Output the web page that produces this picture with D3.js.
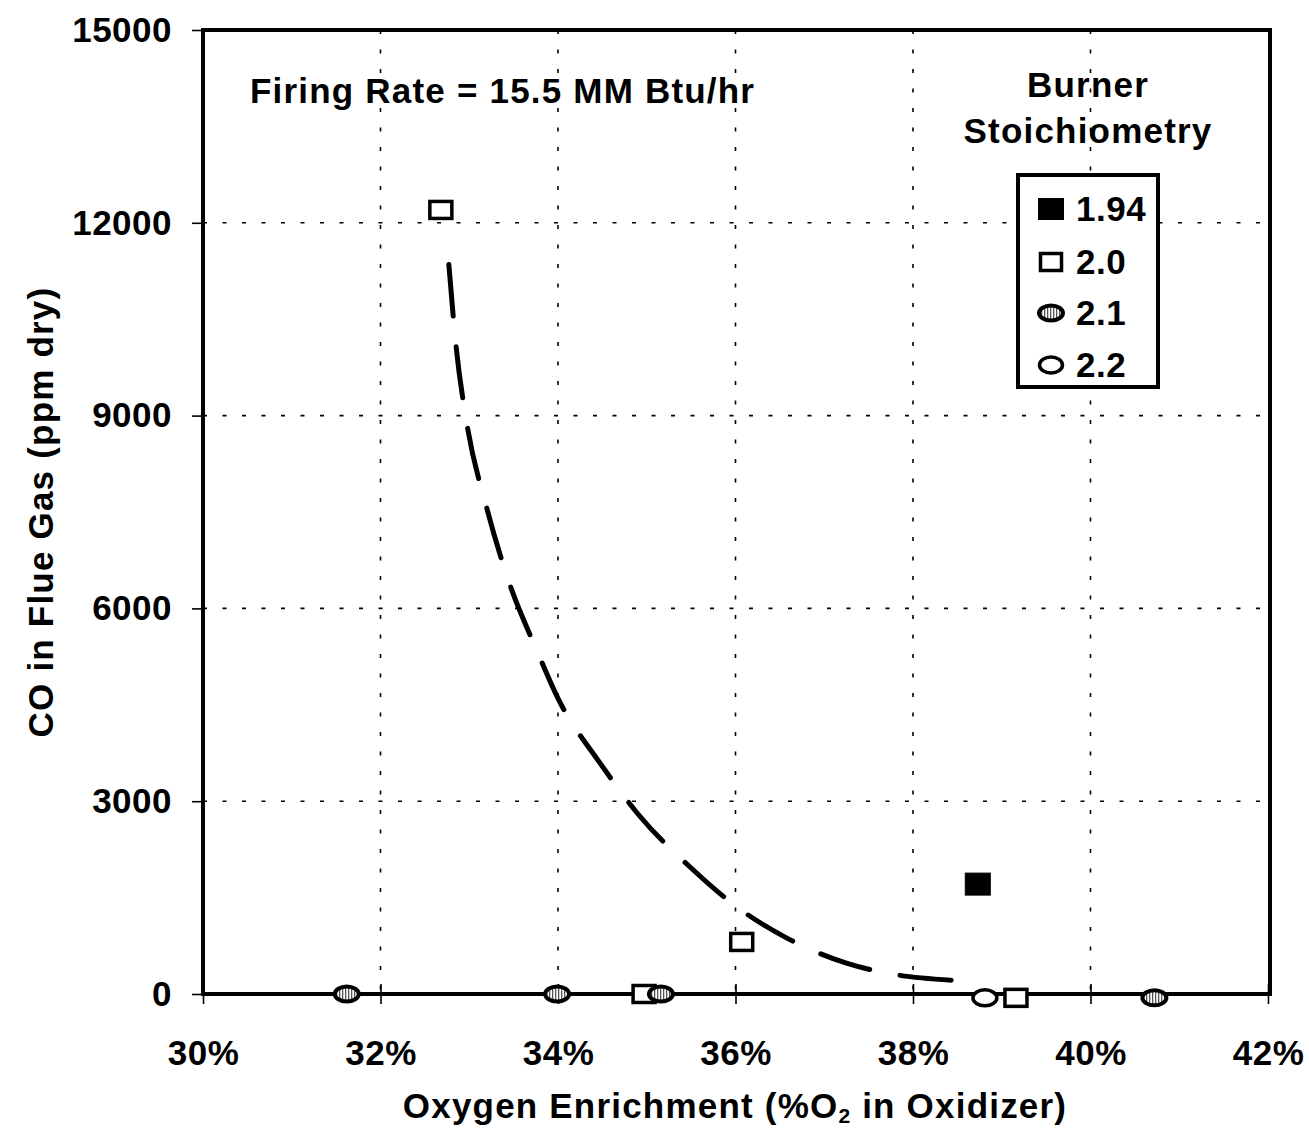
<!DOCTYPE html>
<html lang="en">
<head>
<meta charset="UTF-8">
<title>CO in Flue Gas vs Oxygen Enrichment</title>
<script src="https://d3js.org/d3.v7.min.js"></script>
<style>
  body { margin: 0; background: #fff; }
  text { font-family: Arial, "Liberation Sans", sans-serif; font-weight: bold; fill: #000; letter-spacing: 1.2px; }
</style>
</head>
<body>
<div id="chart"></div>
<script>
// data (x = % O2 in oxidizer, y = CO ppm dry)
var stoich194 = [[38.73, 1710]];
var stoich20 = [[32.68, 12200], [36.07, 810], [34.97, 0], [39.16, -60]];
var stoich21 = [[31.62, 0], [33.99, 0], [35.16, 0], [40.72, -60]];
var stoich22 = [[38.81, -60]];
// dashed trend line
var trendCurve = [[32.77, 11350], [32.85, 10100], [32.97, 8900], [33.2, 7550], [33.45, 6400],
  [33.76, 5350], [34.0, 4600], [34.47, 3600], [34.92, 2770], [35.5, 1960], [36.0, 1370],
  [36.58, 870], [37.25, 480], [37.83, 295], [38.43, 215]];
var xTicks = [30, 32, 34, 36, 38, 40, 42];
var yTicks = [0, 3000, 6000, 9000, 12000, 15000];
var legendLabels = ["1.94", "2.0", "2.1", "2.2"];

var W = 1309, H = 1131;
var plotLeft = 203, plotRight = 1268, plotTop = 30, plotBottom = 994;

var svg = d3.select("#chart").append("svg")
  .attr("width", W).attr("height", H);

// hatch for the 2.1 ellipses
var defs = svg.append("defs");
var pat = defs.append("pattern").attr("id", "hatch")
  .attr("patternUnits", "userSpaceOnUse").attr("width", 3).attr("height", 3);
pat.append("rect").attr("width", 3).attr("height", 3).attr("fill", "#fff");
pat.append("rect").attr("width", 1.3).attr("height", 3).attr("fill", "#555");

var x = d3.scaleLinear().domain([30, 42]).range([plotLeft, plotRight]);
var y = d3.scaleLinear().domain([0, 15000]).range([plotBottom, plotTop]);

// grid
svg.append("g").selectAll("line").data(yTicks.filter(d => d > 0 && d < 15000)).enter()
  .append("line")
  .attr("x1", plotLeft).attr("x2", plotRight).attr("y1", d => y(d)).attr("y2", d => y(d))
  .attr("stroke", "#000").attr("stroke-width", 1.6).attr("stroke-dasharray", "4,15.5");
svg.append("g").selectAll("line").data(xTicks.filter(d => d > 30 && d < 42)).enter()
  .append("line")
  .attr("x1", d => x(d)).attr("x2", d => x(d)).attr("y1", plotTop).attr("y2", plotBottom)
  .attr("stroke", "#000").attr("stroke-width", 1.6).attr("stroke-dasharray", "4,15.5");

// axes
var yAxis = d3.axisLeft(y).tickValues(yTicks).tickSize(11).tickPadding(20).tickFormat(d3.format("d"));
var gy = svg.append("g").attr("transform", "translate(" + plotLeft + ",0)").call(yAxis);
var xAxis = d3.axisBottom(x).tickValues(xTicks).tickSize(10).tickPadding(36).tickFormat(d => d + "%");
var gx = svg.append("g").attr("transform", "translate(0," + plotBottom + ")").call(xAxis);
gx.selectAll(".tick line").attr("y1", -10);
[gx, gy].forEach(function (g) {
  g.select(".domain").remove();
  g.selectAll(".tick line").attr("stroke", "#000").attr("stroke-width", 1.6);
  g.selectAll("text").style("font-size", "35px").style("font-weight", "bold")
    .style("font-family", "Arial, 'Liberation Sans', sans-serif").style("letter-spacing", "0.5px")
    .attr("fill", "#000");
});

// frame
svg.append("path")
  .attr("d", "M" + plotLeft + "," + plotBottom + "V" + plotTop + "H" + (plotRight + 2) + "V" + plotBottom)
  .attr("fill", "none").attr("stroke", "#000").attr("stroke-width", 4);
svg.append("line")
  .attr("x1", plotLeft - 2).attr("x2", plotRight + 4).attr("y1", y(0)).attr("y2", y(0))
  .attr("stroke", "#000").attr("stroke-width", 4);

// trend line, dash period fitted so the line starts and ends on a dash
var trend = svg.append("path").datum(trendCurve)
  .attr("d", d3.line().x(d => x(d[0])).y(d => y(d[1])).curve(d3.curveMonotoneX))
  .attr("fill", "none").attr("stroke", "#000").attr("stroke-width", 5)
  .attr("stroke-linecap", "round");
var len = trend.node().getTotalLength();
var n = Math.round(len / 80 + 0.375);
var period = len / (n - 0.375);
trend.attr("stroke-dasharray", (period * 0.625) + "," + (period * 0.375));

// markers
function drawSquare(g, cx, cy, w, h, filled) {
  g.append("rect").attr("x", cx - w / 2).attr("y", cy - h / 2).attr("width", w).attr("height", h)
    .attr("fill", filled ? "#000" : "#fff").attr("stroke", "#000").attr("stroke-width", filled ? 1 : 3.5);
}
function drawEllipse(g, cx, cy, rx, ry, hatched) {
  g.append("ellipse").attr("cx", cx).attr("cy", cy).attr("rx", rx).attr("ry", ry)
    .attr("fill", hatched ? "url(#hatch)" : "#fff").attr("stroke", "#000").attr("stroke-width", hatched ? 4 : 3.5);
}
var marks = svg.append("g");
stoich20.forEach(d => drawSquare(marks, x(d[0]), y(d[1]), 22, 17, false));
stoich21.forEach(d => drawEllipse(marks, x(d[0]), y(d[1]), 12, 7.5, true));
stoich22.forEach(d => drawEllipse(marks, x(d[0]), y(d[1]), 12, 8, false));
stoich194.forEach(d => drawSquare(marks, x(d[0]), y(d[1]), 25, 22, true));

// annotations
svg.append("text").attr("x", 250).attr("y", 103).style("font-size", "35px")
  .text("Firing Rate = 15.5 MM Btu/hr");
svg.append("text").attr("x", 1088).attr("y", 97).attr("text-anchor", "middle").style("font-size", "35px")
  .text("Burner");
svg.append("text").attr("x", 1088).attr("y", 143).attr("text-anchor", "middle").style("font-size", "35px")
  .text("Stoichiometry");

// legend
var lg = svg.append("g");
lg.append("rect").attr("x", 1018).attr("y", 175).attr("width", 140).attr("height", 212)
  .attr("fill", "#fff").attr("stroke", "#000").attr("stroke-width", 4);
var rowY = [209, 262, 313, 365];
legendLabels.forEach(function (lab, i) {
  var cy = rowY[i], cx = 1051;
  if (i === 0) drawSquare(lg, cx, cy, 25, 21, true);
  if (i === 1) drawSquare(lg, cx, cy, 21, 17, false);
  if (i === 2) drawEllipse(lg, cx, cy, 12, 7.5, true);
  if (i === 3) drawEllipse(lg, cx, cy, 11.5, 8, false);
  lg.append("text").attr("x", 1076).attr("y", cy + 12).style("font-size", "35px")
    .style("letter-spacing", "0.5px").text(lab);
});

// axis titles
svg.append("text").attr("x", 735).attr("y", 1118).attr("text-anchor", "middle").style("font-size", "35px")
  .html("Oxygen Enrichment (%O<tspan dy='5' style='font-size:21px'>2</tspan><tspan dy='-5'> in Oxidizer)</tspan>");
svg.append("text").attr("transform", "translate(53,512) rotate(-90)").attr("text-anchor", "middle")
  .style("font-size", "35px").text("CO in Flue Gas (ppm dry)");
</script>
</body>
</html>
